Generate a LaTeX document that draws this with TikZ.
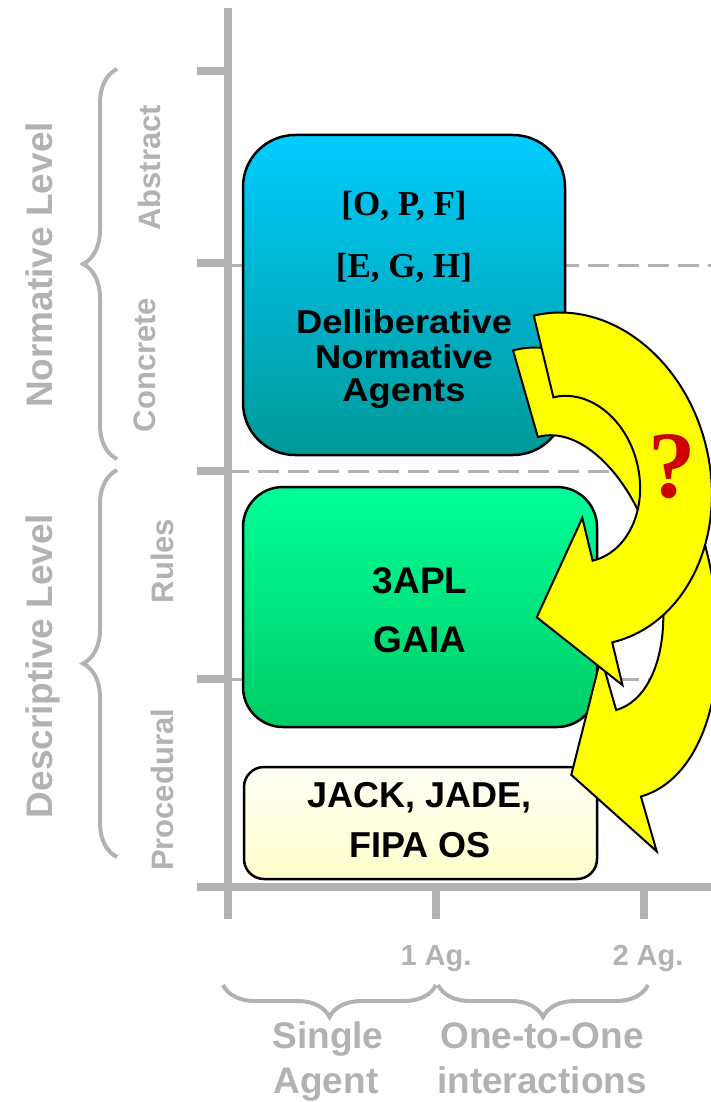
\documentclass[tikz,border=0pt]{standalone}
\usepackage{fontspec}
\setmainfont{Liberation Sans}
\newfontfamily\seriffont{Liberation Serif}
\usetikzlibrary{decorations.pathreplacing}
\definecolor{axisgray}{RGB}{178,178,178}
\definecolor{bluetop}{RGB}{0,204,255}
\definecolor{bluebot}{RGB}{0,153,153}
\definecolor{greentop}{RGB}{0,255,153}
\definecolor{greenbot}{RGB}{0,204,102}
\definecolor{yeltop}{RGB}{255,255,245}
\definecolor{yelbot}{RGB}{255,255,204}
\definecolor{qred}{RGB}{204,0,0}
\definecolor{arrowyellow}{RGB}{255,255,0}
\newcommand{\fsz}[1]{\fontsize{#1}{#1}\selectfont}
\begin{document}
\begin{tikzpicture}[x=1pt,y=1pt,
 axisline/.style={draw=axisgray, line width=8pt},
 guide/.style={draw=axisgray, line width=3pt, dash pattern=on 21pt off 9pt},
 brc/.style={draw=axisgray, line width=4pt, decorate, decoration={brace, amplitude=#1}},
 graylbl/.style={text=axisgray, font=\bfseries\fsz{#1}, inner sep=0pt, anchor=base},
 rotlbl/.style={graylbl=#1, rotate=90},
 box/.style={draw=black, line width=2.5pt, rounded corners=#1, inner sep=0pt},
 boxtxt/.style={font=\bfseries\fsz{#1}, inner sep=0pt, anchor=base},
 sertxt/.style={font=\seriffont\bfseries\fsz{#1}, inner sep=0pt, anchor=base},
 arrowshape/.style={fill=arrowyellow, draw=black, line width=2pt},
]
\useasboundingbox (0,0) rectangle (711,-1102);
\clip (0,0) rectangle (711,-1102);

% dashed guide lines
\draw[guide] (228,-265) -- (711,-265);
\draw[guide] (228,-471) -- (711,-471);
\draw[guide] (228,-679) -- (711,-679);

% axes
\draw[axisline] (228,-8) -- (228,-919);
\draw[axisline] (197,-887) -- (711,-887);
\foreach \yy in {71,263,471,679} {\draw[axisline] (197,-\yy) -- (228,-\yy);}
\foreach \xx in {436,644} {\draw[axisline] (\xx,-887) -- (\xx,-919);}

% braces
\draw[brc=34pt] (117,-459) -- (117,-69);
\draw[brc=34pt] (117,-857) -- (117,-470);
\draw[brc=32pt] (436,-985) -- (223,-985);
\draw[brc=32pt] (648,-985) -- (438,-985);

% gray labels
\node[rotlbl=37] (normlvl) at (52,-265) {Normative Level};
\node[rotlbl=37] (desclvl) at (52,-666) {Descriptive Level};
\node[rotlbl=31] (abstract) at (160,-168) {Abstract};
\node[rotlbl=31] (concrete) at (155,-365) {Concrete};
\node[rotlbl=31] (rules) at (173,-561) {Rules};
\node[rotlbl=31] (procedural) at (173,-790) {Procedural};
\node[graylbl=29] (ag1) at (436,-965) {1 Ag.};
\node[graylbl=29] (ag2) at (648,-965) {2 Ag.};
\node[graylbl=37] (single) at (328,-1048) {Single};
\node[graylbl=37] (agent) at (326,-1093) {Agent};
\node[graylbl=37] (onetoone) at (542,-1048) {One-to-One};
\node[graylbl=37] (interact) at (542,-1093) {interactions};

% boxes
\node[box=52pt, top color=bluetop, bottom color=bluebot, minimum width=322pt, minimum height=320pt] (bluebox) at (404,-295) {};
\node[box=40pt, top color=greentop, bottom color=greenbot, minimum width=354pt, minimum height=240pt] (greenbox) at (420,-607) {};
\node[box=20pt, top color=yeltop, bottom color=yelbot, minimum width=353pt, minimum height=112pt] (yellowbox) at (420.5,-823) {};

% box texts
\node[sertxt=35] (opf) at (404,-215) {[O, P, F]};
\node[sertxt=35] (egh) at (404,-277) {[E, G, H]};
\node[boxtxt=33] (dell) at (404,-333) {\scalebox{1.1}[1]{Delliberative}};
\node[boxtxt=33] (norm) at (404,-368) {\scalebox{1.1}[1]{Normative}};
\node[boxtxt=33] (agents) at (404,-401) {\scalebox{1.1}[1]{Agents}};
\node[boxtxt=37] (apl) at (420,-593) {3APL};
\node[boxtxt=37] (gaia) at (420,-652) {GAIA};
\node[boxtxt=36] (jack) at (420,-807) {JACK, JADE,};
\node[boxtxt=36] (fipa) at (420,-857) {FIPA OS};

% curved arrow B (behind)
\begin{scope}[shift={(577,-573.5)}, rotate=16]
\draw[arrowshape] (0,232) arc[start angle=90, end angle=-90, x radius=131, y radius=232]
  -- (0,-289) -- (-61,-192) -- (0,-87) -- (0,-142)
  arc[start angle=-90, end angle=90, x radius=80, y radius=142] -- cycle;
\end{scope}
% curved arrow A (front)
\begin{scope}[shift={(573,-479)}, rotate=13.5]
\draw[arrowshape] (0,168) arc[start angle=90, end angle=-90, x radius=137, y radius=168]
  -- (0,-212) -- (-67.5,-126) -- (0,-40) -- (0,-84)
  arc[start angle=-90, end angle=90, x radius=66, y radius=84] -- cycle;
\end{scope}

\node[sertxt=95, text=qred] (qmark) at (672,-497) {?};
\end{tikzpicture}
\end{document}
